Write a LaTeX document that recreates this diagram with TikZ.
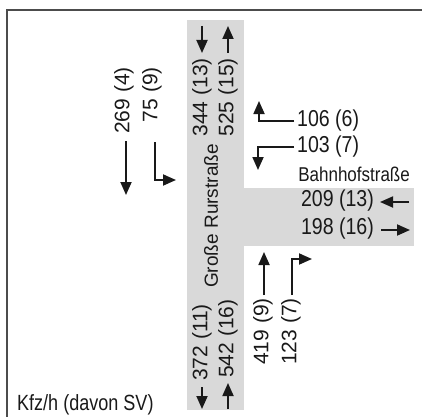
\documentclass[tikz,border=0pt]{standalone}
\usepackage{fontspec}
\setmainfont{Liberation Sans}
\usetikzlibrary{arrows.meta}

\begin{document}
\begin{tikzpicture}[x=1pt, y=-1pt,
    road/.style={fill=black!15},
    frame/.style={line width=2pt, black!70},
    flow/.style={line width=1.8pt, black!90, -{Triangle[length=13pt, width=11pt]}},
    hnum/.style={font=\fontsize{23}{23}\selectfont, text=black!90, inner sep=0pt, xscale=0.85},
    vnum/.style={font=\fontsize{21}{21}\selectfont, text=black!90, inner sep=0pt, rotate=90},
    streetname/.style={font=\fontsize{20}{20}\selectfont, text=black!90, inner sep=0pt, xscale=0.85}]

    \useasboundingbox (0,0) rectangle (422,417);

    % ==========================================
    % 1. ROADS AND FRAME
    % ==========================================
    % Grosse Rurstrasse (vertical) and Bahnhofstrasse (to the east)
    \fill[road] (187,20) rectangle (244,410);
    \fill[road] (244,188) rectangle (414,246);

    % Frame, only top and left edges visible
    \draw[frame] (422,10) -- (7,10) -- (7,417);

    % ==========================================
    % 2. COORDINATES FOR FLOW ARROWS
    % ==========================================
    % North arm
    \coordinate (NinS) at (202,26);   \coordinate (NinE) at (202,53);
    \coordinate (NoutS) at (228,53);  \coordinate (NoutE) at (228,26);
    % North approach, left of road
    \coordinate (NLs) at (126,141);   \coordinate (NLe) at (126,195);
    \coordinate (NRs) at (155,142);   \coordinate (NRe) at (176,180);
    % East approach, above road
    \coordinate (ELe) at (259,101);
    \coordinate (ERe) at (258,170);
    % East arm
    \coordinate (EinS) at (409,202);  \coordinate (EinE) at (380,202);
    \coordinate (EoutS) at (381,230); \coordinate (EoutE) at (410,230);
    % South approach, right of road
    \coordinate (SLs) at (264,295);   \coordinate (SLe) at (264,252);
    \coordinate (SRs) at (292,295);   \coordinate (SRe) at (312,259);
    % South arm
    \coordinate (SoutS) at (202,387); \coordinate (SoutE) at (202,409);
    \coordinate (SinS) at (228,409);  \coordinate (SinE) at (228,383);

    % ==========================================
    % 3. TRAFFIC COUNTS
    % ==========================================
    % North arm
    \node[vnum, anchor=east] (n344) at (202,58) {344 (13)};
    \node[vnum, anchor=east] (n525) at (228,58) {525 (15)};
    \draw[flow] (NinS) -- (NinE);
    \draw[flow] (NoutS) -- (NoutE);

    % North approach
    \node[vnum, anchor=east] (n269) at (124,67) {269 (4)};
    \node[vnum, anchor=east] (n75) at (152,67) {75 (9)};
    \draw[flow] (NLs) -- (NLe);
    \draw[flow] (NRs) |- (NRe);

    % East approach
    \node[hnum, anchor=west] (n106) at (297,121) {106 (6)};
    \node[hnum, anchor=west] (n103) at (297,147) {103 (7)};
    \draw[flow] ([xshift=-3pt]n106.west) -| (ELe);
    \draw[flow] ([xshift=-3pt]n103.west) -| (ERe);
    \node[streetname, anchor=east] (bahnhof) at (410,174) {Bahnhofstraße};

    % East arm
    \node[hnum, anchor=east] (n209) at (374,201) {209 (13)};
    \node[hnum, anchor=east] (n198) at (374,229) {198 (16)};
    \draw[flow] (EinS) -- (EinE);
    \draw[flow] (EoutS) -- (EoutE);

    % South approach
    \node[vnum, anchor=east] (n419) at (263,298) {419 (9)};
    \node[vnum, anchor=east] (n123) at (291,298) {123 (7)};
    \draw[flow] (SLs) -- (SLe);
    \draw[flow] (SRs) |- (SRe);

    % South arm
    \node[vnum, anchor=west] (n372) at (202,381) {372 (11)};
    \node[vnum, anchor=west] (n542) at (228,378) {542 (16)};
    \draw[flow] (SoutS) -- (SoutE);
    \draw[flow] (SinS) -- (SinE);

    % Street name on the vertical road
    \node[font=\fontsize{19}{19}\selectfont, text=black!90, inner sep=0pt,
        rotate=90] (rurstr) at (211,216) {Große Rurstraße};

    % Legend
    \node[font=\fontsize{22}{22}\selectfont, text=black!90, inner sep=0pt,
        xscale=0.82, anchor=base west] (legend) at (17,410) {Kfz/h (davon SV)};

\end{tikzpicture}
\end{document}
